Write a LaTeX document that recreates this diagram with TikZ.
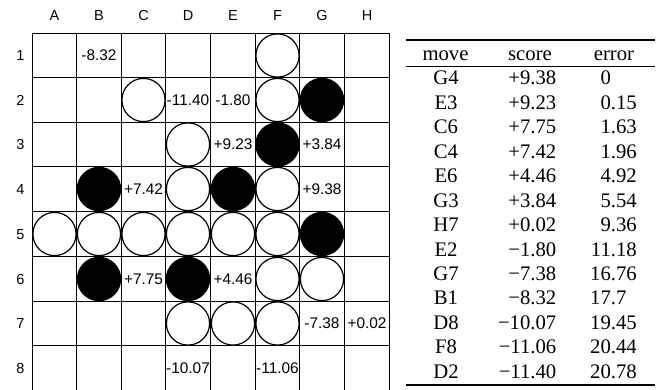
\documentclass[tikz,border=0pt]{standalone}
\usepackage{fontspec}
\setmainfont{Liberation Serif}
\newfontfamily\boardfont{Liberation Sans}
\begin{document}
\begin{tikzpicture}[x=1pt,y=-1pt,
  gridline/.style={line width=1.2pt},
  wstone/.style={circle,draw,line width=1.2pt,fill=white,minimum size=43.2pt,inner sep=0pt},
  bstone/.style={circle,draw,line width=1.2pt,fill=black,minimum size=43.2pt,inner sep=0pt},
  scoretxt/.style={font=\boardfont\fontsize{15.4}{18}\selectfont,inner sep=0pt,anchor=base},
  lbl/.style={font=\boardfont\fontsize{14.5}{17}\selectfont,inner sep=0pt,anchor=base},
  tab/.style={font=\fontsize{20.7}{24}\selectfont,inner sep=0pt,anchor=base},
  numr/.style={tab,anchor=base east},
  thickrule/.style={line width=2pt},
  thinrule/.style={line width=0.9pt}]
\useasboundingbox (0,0) rectangle (662,390);
\def\xs{{32.5,76.5,121.5,165.5,210.5,255.5,299.5,344.5,389.5}}
\def\ys{{33.5,77.5,122.5,166.5,211.5,256.5,301.5,345.5,390.5}}
\def\xc{{0,54.5,99,143.5,188,233,277.5,322,367}}
\def\yc{{0,55.5,100,144.5,189,234,279,323.5,368}}
% grid
\foreach \i in {0,...,8} {
  \draw[gridline] ({\xs[\i]},32.9) -- ({\xs[\i]},391);
  \draw[gridline] (31.9,{\ys[\i]}) -- (390.1,{\ys[\i]});
}
% column and row labels
\foreach \l [count=\c] in {A,B,C,D,E,F,G,H} {
  \node[lbl] (col\l) at ({\xc[\c]},21) {\l};
  \node[lbl] (row\c) at (20.5,{\yc[\c]+5.2}) {\c};
}
% white stones
\foreach \c/\r in {6/1,3/2,6/2,4/3,4/4,6/4,1/5,2/5,3/5,4/5,5/5,6/5,6/6,7/6,4/7,5/7,6/7} {
  \node[wstone] (w\c\r) at ({\xc[\c]},{\yc[\r]}) {};
}
% black stones
\foreach \c/\r in {7/2,6/3,2/4,5/4,7/5,2/6,4/6} {
  \node[bstone] (b\c\r) at ({\xc[\c]},{\yc[\r]}) {};
}
% scores
\foreach \c/\r/\t in {2/1/-8.32,4/2/-11.40,5/2/-1.80,5/3/+9.23,7/3/+3.84,3/4/+7.42,7/4/+9.38,3/6/+7.75,5/6/+4.46,7/7/-7.38,8/7/+0.02,4/8/-10.07,6/8/-11.06} {
  \node[scoretxt] (s\c\r) at ({\xc[\c]},{\yc[\r]+5.5}) {\t};
}
% table rules
\coordinate (tl) at (406,40.5);
\coordinate (tr) at (655,40.5);
\coordinate (ml) at (406,66);
\coordinate (mr) at (655,66);
\coordinate (bl) at (406,385);
\coordinate (br) at (655,385);
\draw[thickrule] (tl) -- (tr);
\draw[thinrule] (ml) -- (mr);
\draw[thickrule] (bl) -- (br);
% header
\node[tab] (hmove) at (445.5,60.3) {move};
\node[tab] (hscore) at (530,60.3) {score};
\node[tab] (herror) at (614,60.3) {error};
% rows
\foreach \m/\s [count=\i from 0] in {G4/+9.38,E3/+9.23,C6/+7.75,C4/+7.42,E6/+4.46,G3/+3.84,H7/+0.02,E2/−1.80,G7/−7.38,B1/−8.32,D8/−10.07,F8/−11.06,D2/−11.40} {
  \node[tab] (m\i) at (446,{84.85+24.46*\i}) {\m};
  \node[numr] (sc\i) at (556.5,{84.85+24.46*\i}) {\s};
}
\node[numr] (e0) at (611.1,84.85) {0};
\foreach \e [count=\i from 1] in {0.15,1.63,1.96,4.92,5.54,9.36,11.18,16.76} {
  \node[numr] (e\i) at (637,{84.85+24.46*\i}) {\e};
}
\node[numr] (e9) at (626.65,{84.85+24.46*9}) {17.7};
\foreach \e [count=\i from 10] in {19.45,20.44,20.78} {
  \node[numr] (e\i) at (637,{84.85+24.46*\i}) {\e};
}
\end{tikzpicture}
\end{document}
